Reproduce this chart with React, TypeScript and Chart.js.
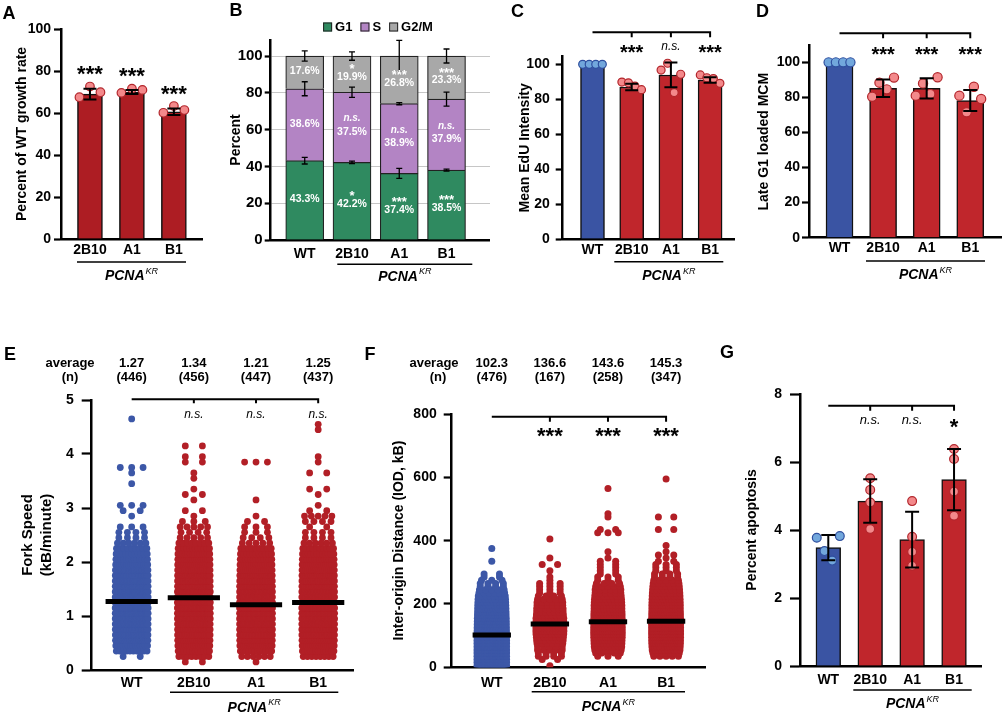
import React, { useEffect, useRef } from "react";
import { Chart, registerables } from "chart.js";

Chart.register(...registerables);

const FONT = "'Liberation Sans', Arial, Helvetica, sans-serif";

/* ====================== DATA ====================== */
// A – growth rate
const growthGroups = ["2B10", "A1", "B1"];
const growthMean = [69.0, 70.0, 60.6];
const growthSD = [2.6, 1.0, 1.6];
const growthPoints = [[67.5, 72.6, 69.9], [69.6, 71.6, 71.0], [60.1, 63.3, 61.4]];
const growthSig = ["***", "***", "***"];
const growthTicks = [0, 20, 40, 60, 80, 100];

// shared groups
const groups4 = ["WT", "2B10", "A1", "B1"];
const pctTicks = [0, 20, 40, 60, 80, 100];

// B – cell-cycle phases
const phaseNames = ["G1", "S", "G2/M"];
const g1Pct = [43.1, 42.2, 36.2, 38.0];
const sPct = [39.1, 38.1, 37.9, 38.6];
const g2mPct = [17.8, 19.7, 25.9, 23.4];
const g1Err = [1.8, 0.7, 2.7, 0.5];
const sErr = [3.8, 2.8, 0.6, 3.8];
const g2mErr = [2.8, 2.3, 8.5, 3.8];
const g1Label = ["43.3%", "42.2%", "37.4%", "38.5%"];
const sLabel = ["38.6%", "37.5%", "38.9%", "37.9%"];
const g2mLabel = ["17.6%", "19.9%", "26.8%", "23.3%"];
const g1Sig = ["", "*", "***", "***"];
const sSig = ["", "n.s.", "n.s.", "n.s."];
const g2mSig = ["", "*", "***", "***"];

// C – EdU
const eduMean = [100, 87.0, 93.9, 91.0];
const eduSD = [0, 1.9, 7.1, 1.6];
const eduPoints = [[100, 100, 100, 100], [89.8, 89.4, 87.5, 85.5], [96.7, 100.6, 83.8, 94.3], [93.9, 92.3, 91.8, 89.1]];
const eduSig = ["", "***", "n.s.", "***"];

// D – MCM
const mcmMean = [100, 85.2, 85.2, 78.2];
const mcmSD = [0, 5.0, 5.8, 6.0];
const mcmPoints = [[100, 100, 100, 100], [80.4, 88.4, 84.6, 91.3], [81.0, 88.0, 81.9, 91.5], [81.0, 71.5, 86.1, 79.1]];
const mcmSig = ["", "***", "***", "***"];

// G – apoptosis
const apopMean = [3.48, 4.85, 3.72, 5.48];
const apopSD = [0.37, 0.64, 0.82, 0.9];
const apopPoints = [[3.77, 3.38, 3.10, 3.82], [5.52, 5.18, 4.81, 4.03], [4.85, 3.80, 3.36, 2.95], [6.38, 6.09, 5.13, 4.42]];
const apopSig = ["", "n.s.", "n.s.", "*"];
const apopTicks = [0, 2, 4, 6, 8];

// E – fork speed (counts per 0.1 kB/min bin, read from the dot clouds)
const forkAvgText = ["1.27", "1.34", "1.21", "1.25"];
const forkNText = ["(446)", "(456)", "(447)", "(437)"];
const forkMean = [1.27, 1.34, 1.21, 1.25];
const forkSig = ["", "n.s.", "n.s.", "n.s."];
const forkTicks = [0, 1, 2, 3, 4, 5];
const forkBin = 0.1;
const forkCountsWT = [0, 0, 2, 10, 14, 19, 21, 23, 25, 25, 27, 27, 27, 27, 26, 25, 24, 23, 21, 16, 13, 11, 9, 6, 4, 4, 3, 0, 1, 2, 3, 0, 0, 0, 1, 0, 1, 3, 0, 0, 0, 0, 0, 0, 0, 0, 1];
const forkCounts2B10 = [0, 2, 8, 12, 15, 18, 20, 21, 22, 25, 26, 26, 26, 26, 25, 22, 21, 20, 19, 18, 16, 14, 12, 8, 5, 4, 5, 3, 1, 2, 0, 1, 2, 1, 0, 1, 1, 0, 2, 2, 0, 2];
const forkCountsA1 = [0, 1, 6, 12, 18, 21, 23, 25, 26, 27, 27, 27, 27, 26, 25, 24, 21, 19, 17, 15, 13, 11, 9, 5, 4, 3, 3, 2, 1, 0, 0, 1, 0, 0, 0, 0, 0, 0, 3];
const forkCountsB1 = [0, 0, 8, 13, 16, 19, 21, 23, 24, 25, 25, 25, 24, 24, 23, 21, 20, 19, 18, 16, 14, 12, 10, 6, 4, 4, 2, 4, 5, 2, 1, 0, 1, 2, 0, 0, 2, 0, 1, 1, 0, 0, 0, 0, 1, 1];

// F – inter-origin distance (counts per 10 kB bin)
const iodAvgText = ["102.3", "136.6", "143.6", "145.3"];
const iodNText = ["(476)", "(167)", "(258)", "(347)"];
const iodMean = [102.3, 136.6, 143.6, 145.3];
const iodSig = ["", "***", "***", "***"];
const iodTicks = [0, 200, 400, 600, 800];
const iodBin = 10;
const iodCountsWT = [25, 25, 25, 25, 25, 25, 25, 25, 25, 25, 25, 21, 20, 18, 17, 16, 14, 13, 12, 11, 10, 9, 8, 6, 5, 4, 4, 3, 2, 2, 0, 0, 0, 1, 0, 0, 0, 1];
const iodCounts2B10 = [1, 0, 2, 4, 4, 5, 5, 6, 7, 8, 10, 11, 11, 11, 10, 10, 8, 7, 7, 6, 6, 5, 4, 3, 3, 3, 3, 1, 1, 0, 1, 0, 2, 0, 1, 0, 0, 0, 0, 0, 1];
const iodCountsA1 = [0, 0, 0, 3, 5, 7, 9, 10, 11, 13, 14, 14, 14, 13, 13, 12, 12, 11, 10, 10, 9, 8, 7, 6, 6, 5, 4, 3, 3, 2, 2, 2, 2, 2, 1, 0, 1, 0, 0, 0, 0, 0, 3, 2, 0, 0, 0, 1, 1, 0, 0, 0, 0, 0, 0, 0, 1];
const iodCountsB1 = [0, 0, 0, 5, 7, 10, 12, 14, 15, 16, 17, 17, 17, 17, 16, 16, 15, 14, 13, 13, 12, 11, 10, 9, 8, 7, 6, 5, 4, 4, 3, 3, 3, 2, 1, 2, 1, 0, 1, 0, 0, 0, 0, 2, 0, 0, 0, 2, 0, 0, 0, 0, 0, 0, 0, 0, 0, 0, 0, 1];

/* ====================== STYLE ====================== */
const RED_DARK = "#ad1d23";
const RED = "#c0262c";
const BLUE = "#3a54a3";
const PINK = "#f3898b";
const PINK_EDGE = "#b3262c";
const LBLUE = "#72a7dc";
const LBLUE_EDGE = "#2f4f9f";
const SW_BLUE = "#3c57a7";
const SW_RED = "#b21f26";
const PHASE_COLORS = ["#2f8a60", "#b384c4", "#a8a8a8"];
const XH = 40;

type Box = { x: number; y: number; w: number; h: number };
type Area = { l: number; t: number; r: number; b: number };

const BOXES: Box[] = [
  { x: 0, y: 0, w: 228, h: 330 },
  { x: 228, y: 0, w: 262, h: 330 },
  { x: 490, y: 0, w: 250, h: 330 },
  { x: 740, y: 0, w: 267, h: 330 },
  { x: 0, y: 330, w: 360, h: 385 },
  { x: 360, y: 330, w: 360, h: 385 },
  { x: 720, y: 330, w: 287, h: 385 },
];

/* ====================== HELPERS ====================== */
function fnt(weight: string, size: number, style = "") {
  return `${style} ${weight} ${size}px ${FONT}`.trim();
}

function padFor(box: Box, area: Area) {
  return { left: 0, top: area.t - box.y, right: box.x + box.w - area.r, bottom: box.y + box.h - area.b - XH };
}

function txt(ctx: any, s: string, x: number, y: number, font: string, color = "#000", align = "center") {
  ctx.save();
  ctx.font = font;
  ctx.fillStyle = color;
  ctx.textAlign = align;
  ctx.textBaseline = "middle";
  ctx.fillText(s, x, y);
  ctx.restore();
}

function sigMark(ctx: any, s: string, x: number, cy: number, star: number, ns: number, color = "#000", nsBold = false) {
  if (!s) return;
  ctx.save();
  ctx.fillStyle = color;
  ctx.textAlign = "center";
  ctx.textBaseline = "alphabetic";
  if (s.indexOf("*") >= 0) {
    ctx.font = fnt("bold", star);
    ctx.fillText(s, x, cy + 0.575 * star);
  } else {
    ctx.font = fnt(nsBold ? "bold" : "normal", ns, "italic");
    ctx.fillText(s, x, cy + 0.26 * ns);
  }
  ctx.restore();
}

function pcnaLabel(ctx: any, x0: number, x1: number, lineY: number, textY: number) {
  ctx.save();
  ctx.strokeStyle = "#000";
  ctx.lineWidth = 1.6;
  ctx.beginPath();
  ctx.moveTo(x0, lineY);
  ctx.lineTo(x1, lineY);
  ctx.stroke();
  const f1 = fnt("bold", 14, "italic");
  const f2 = fnt("normal", 9, "italic");
  ctx.font = f1;
  const w1 = ctx.measureText("PCNA").width;
  ctx.font = f2;
  const w2 = ctx.measureText("KR").width;
  const start = (x0 + x1) / 2 - (w1 + w2 + 1) / 2;
  const base = textY + 5;
  ctx.fillStyle = "#000";
  ctx.textAlign = "left";
  ctx.textBaseline = "alphabetic";
  ctx.font = f1;
  ctx.fillText("PCNA", start, base);
  ctx.font = f2;
  ctx.fillText("KR", start + w1 + 1, base - 6.5);
  ctx.restore();
}

function bracket(ctx: any, x0: number, drops: number[], y: number, drop: number) {
  ctx.save();
  ctx.strokeStyle = "#000";
  ctx.lineWidth = 2;
  ctx.beginPath();
  ctx.moveTo(x0, y);
  ctx.lineTo(drops[drops.length - 1] + 1, y);
  drops.forEach((x) => {
    ctx.moveTo(x, y);
    ctx.lineTo(x, y + drop);
  });
  ctx.stroke();
  ctx.restore();
}

function errBar(ctx: any, x: number, yT: number, yB: number, cap: number, lw: number) {
  ctx.save();
  ctx.strokeStyle = "#000";
  ctx.lineWidth = lw;
  ctx.beginPath();
  ctx.moveTo(x, yT);
  ctx.lineTo(x, yB);
  ctx.moveTo(x - cap, yT);
  ctx.lineTo(x + cap, yT);
  ctx.moveTo(x - cap, yB);
  ctx.lineTo(x + cap, yB);
  ctx.stroke();
  ctx.restore();
}

const xp = (chart: any, v: number) => chart.scales.x.getPixelForValue(v);
const yp = (chart: any, v: number) => chart.scales.y.getPixelForValue(v);

function yAxis(o: any) {
  return {
    type: "linear",
    position: "left",
    min: o.min,
    max: o.max,
    stacked: !!o.stacked,
    afterBuildTicks: (s: any) => {
      s.ticks = o.ticks.map((v: number) => ({ value: v }));
    },
    afterFit: (s: any) => {
      s.width = o.width;
      s.paddingTop = 0;
      s.paddingBottom = 0;
    },
    ticks: { font: { family: FONT, size: o.tickSize, weight: "bold" }, color: "#000", padding: o.tickPad },
    grid: {
      display: true,
      drawOnChartArea: !!o.gridColor,
      color: o.gridColor || "#000",
      lineWidth: 1,
      drawTicks: true,
      tickLength: o.tickLen,
      tickColor: "#000",
      tickWidth: 2.2,
    },
    border: { display: true, color: "#000", width: 2.5 },
    title: {
      display: true,
      text: o.title,
      color: "#000",
      font: { family: FONT, size: o.titleSize || 14, weight: "bold", lineHeight: o.titleLH || 1.2 },
      padding: { top: o.titlePad, bottom: 0 },
    },
  };
}

function xAxis(o: any) {
  return {
    type: "linear",
    position: "bottom",
    min: o.min,
    max: o.max,
    offset: false,
    stacked: !!o.stacked,
    afterBuildTicks: (s: any) => {
      s.ticks = o.groups.map((_: string, i: number) => ({ value: i }));
    },
    afterFit: (s: any) => {
      s.height = XH;
      s.paddingLeft = 0;
      s.paddingRight = 0;
    },
    ticks: {
      callback: (v: number) => o.groups[Math.round(v)] ?? "",
      font: { family: FONT, size: o.size || 14, weight: "bold" },
      color: "#000",
      padding: o.pad,
      autoSkip: false,
      maxRotation: 0,
      minRotation: 0,
    },
    grid: { display: false, drawTicks: false, offset: false },
    border: { display: true, color: "#000", width: 2.5 },
  };
}

function baseOptions(box: Box, area: Area, scales: any) {
  return {
    responsive: false,
    animation: false,
    devicePixelRatio: 1,
    events: [],
    layout: { padding: padFor(box, area) },
    plugins: { legend: { display: false }, tooltip: { enabled: false } },
    scales,
  };
}

function titlePad(box: Box, centerX: number, size = 14, lh = 1.2) {
  return centerX - box.x - (size * lh) / 2;
}

function barPanel(s: any) {
  const pts: any[] = [];
  const fills: string[] = [];
  const strokes: string[] = [];
  s.points.forEach((vals: number[], i: number) => {
    const sp = Array.isArray(s.spread) ? s.spread[i] : s.spread;
    vals.forEach((v: number, j: number) => {
      const off = vals.length > 1 ? -sp / 2 + (sp * j) / (vals.length - 1) : 0;
      pts.push({ x: i + off, y: v });
      fills.push(s.dotFill[i]);
      strokes.push(s.dotStroke[i]);
    });
  });
  const box: Box = s.box;
  const plugin = {
    id: "extras",
    afterDatasetsDraw(chart: any) {
      const ctx = chart.ctx;
      s.mean.forEach((m: number, i: number) => {
        if (!s.sd[i]) return;
        errBar(ctx, xp(chart, i), yp(chart, m + s.sd[i]), yp(chart, m - s.sd[i]), s.cap, 2);
      });
    },
    afterDraw(chart: any) {
      s.extras(chart, chart.ctx, (v: number) => v - box.x, (v: number) => v - box.y);
    },
  };
  return {
    type: "bar",
    data: {
      datasets: [
        {
          type: "bar",
          data: s.mean.map((m: number, i: number) => ({ x: i, y: m })),
          backgroundColor: s.barColors,
          borderColor: "#111",
          borderWidth: 1.5,
          barThickness: s.barW,
          order: 2,
        },
        {
          type: "scatter",
          data: pts,
          pointBackgroundColor: fills,
          pointBorderColor: strokes,
          pointBorderWidth: 1.2,
          pointRadius: s.dotR,
          order: 1,
        },
      ],
    },
    options: baseOptions(box, s.area, {
      x: xAxis({ groups: s.groups, min: s.xmin, max: s.xmax, pad: s.xPad }),
      y: yAxis({ ...s.y, width: s.area.l - box.x }),
    }),
    plugins: [plugin],
  };
}

function expandBins(counts: number[], bin: number, gi: number, spread: number) {
  const out: any[] = [];
  counts.forEach((c, k) => {
    for (let j = 0; j < c; j++) {
      out.push({ x: gi - spread / 2 + (spread * (j + 0.5)) / c, y: (k + 0.5) * bin });
    }
  });
  return out;
}

function swarmPanel(s: any) {
  const box: Box = s.box;
  const datasets: any[] = [];
  s.means.forEach((m: number, i: number) => {
    datasets.push({
      type: "line",
      data: [{ x: i - s.meanHalf, y: m }, { x: i + s.meanHalf, y: m }],
      borderColor: "#000",
      borderWidth: 5,
      pointRadius: 0,
      order: 0,
    });
  });
  s.counts.forEach((c: number[], i: number) => {
    datasets.push({
      type: "scatter",
      data: expandBins(c, s.bin, i, s.spread),
      pointBackgroundColor: s.colors[i],
      pointBorderWidth: 0,
      pointRadius: s.r,
      order: 1,
    });
  });
  const plugin = {
    id: "extras",
    afterDraw(chart: any) {
      s.extras(chart, chart.ctx, (v: number) => v - box.x, (v: number) => v - box.y);
    },
  };
  return {
    type: "scatter",
    data: { datasets },
    options: baseOptions(box, s.area, {
      x: xAxis({ groups: groups4, min: s.xmin, max: s.xmax, pad: s.xPad }),
      y: yAxis({ ...s.y, width: s.area.l - box.x }),
    }),
    plugins: [plugin],
  };
}

/* ====================== PANELS ====================== */
function panelA() {
  const box = BOXES[0];
  return barPanel({
    box,
    area: { l: 61, t: 29, r: 202, b: 239 },
    groups: growthGroups,
    xmin: -0.69,
    xmax: 2.67,
    mean: growthMean,
    sd: growthSD,
    points: growthPoints,
    barColors: growthGroups.map(() => RED_DARK),
    barW: 25,
    dotFill: growthGroups.map(() => PINK),
    dotStroke: growthGroups.map(() => PINK_EDGE),
    dotR: 4.3,
    spread: 0.5,
    cap: 6.5,
    xPad: 3,
    y: { min: 0, max: 100, ticks: growthTicks, tickSize: 14, tickLen: 7, tickPad: 3, title: "Percent of WT growth rate", titlePad: titlePad(box, 22.5) },
    extras: (chart: any, ctx: any, L: any, T: any) => {
      txt(ctx, "A", L(9), T(14), fnt("bold", 18));
      growthSig.forEach((s, i) => sigMark(ctx, s, xp(chart, i), yp(chart, growthMean[i] + growthSD[i]) - 20, 22, 12));
      pcnaLabel(ctx, L(77), L(186), T(262), T(275));
    },
  });
}

function panelB() {
  const box = BOXES[1];
  const area = { l: 270.7, t: 40, r: 498, b: 240 };
  const vals = [g1Pct, sPct, g2mPct];
  const errs = [g1Err, sErr, g2mErr];
  const labels = [g1Label, sLabel, g2mLabel];
  const sigs = [g1Sig, sSig, g2mSig];
  const L = (v: number) => v - box.x;
  const T = (v: number) => v - box.y;
  const plugin = {
    id: "extras",
    afterDatasetsDraw(chart: any) {
      const ctx = chart.ctx;
      groups4.forEach((_, i) => {
        let cum = 0;
        vals.forEach((arr, k) => {
          cum += arr[i];
          const e = errs[k][i];
          errBar(ctx, xp(chart, i), yp(chart, cum + e), yp(chart, cum - e), 3, 1.3);
        });
      });
    },
    afterDraw(chart: any) {
      const ctx = chart.ctx;
      txt(ctx, "B", L(236), T(11), fnt("bold", 18));
      // legend
      ctx.save();
      ctx.font = fnt("bold", 13);
      const widths = phaseNames.map((n) => ctx.measureText(n).width);
      const total = widths.reduce((a, w) => a + 12 + w, 0) + 8 * (phaseNames.length - 1);
      let x = L(378) - total / 2;
      phaseNames.forEach((n, k) => {
        ctx.fillStyle = PHASE_COLORS[k];
        ctx.fillRect(x, T(22.5), 9, 9);
        ctx.strokeStyle = "#222";
        ctx.lineWidth = 1;
        ctx.strokeRect(x + 0.5, T(22.5) + 0.5, 8, 8);
        ctx.fillStyle = "#000";
        ctx.textAlign = "left";
        ctx.textBaseline = "middle";
        ctx.fillText(n, x + 12, T(27.5));
        x += 12 + widths[k] + 8;
      });
      ctx.restore();
      // segment labels
      groups4.forEach((_, i) => {
        let base = 0;
        vals.forEach((arr, k) => {
          const mid = yp(chart, base + arr[i] / 2);
          base += arr[i];
          const sg = sigs[k][i];
          const isNs = sg.indexOf("n.s.") >= 0;
          const vy = sg ? mid + (isNs ? 5 : 3) : mid - 1;
          if (sg) sigMark(ctx, sg, xp(chart, i), mid - 8.5, 13, 10, "#fff", true);
          txt(ctx, labels[k][i], xp(chart, i), vy, fnt("bold", 10.5), "#fff");
        });
      });
      pcnaLabel(ctx, L(337.3), L(472.3), T(264.3), T(275.7));
    },
  };
  return {
    type: "bar",
    data: {
      datasets: phaseNames.map((n, k) => ({
        type: "bar",
        label: n,
        data: vals[k].map((v, i) => ({ x: i, y: v })),
        backgroundColor: PHASE_COLORS[k],
        borderColor: "#222",
        borderWidth: 1.2,
        barThickness: 38,
      })),
    },
    options: baseOptions(box, area, {
      x: xAxis({ groups: groups4, min: -0.72, max: 3.92, pad: 5.6, stacked: true }),
      y: yAxis({
        min: 0,
        max: 108.7,
        ticks: pctTicks,
        stacked: true,
        tickSize: 15,
        tickLen: 6,
        tickPad: 2,
        gridColor: "#c6c6c6",
        title: "Percent",
        titlePad: Math.max(0, titlePad(box, 236.5)),
        width: area.l - box.x,
      }),
    }),
    plugins: [plugin],
  };
}

function panelC() {
  const box = BOXES[2];
  return barPanel({
    box,
    area: { l: 562.7, t: 56.7, r: 735, b: 239 },
    groups: groups4,
    xmin: -0.76,
    xmax: 3.63,
    mean: eduMean,
    sd: eduSD,
    points: eduPoints,
    barColors: [BLUE, RED, RED, RED],
    barW: 24,
    dotFill: [LBLUE, PINK, PINK, PINK],
    dotStroke: [LBLUE_EDGE, PINK_EDGE, PINK_EDGE, PINK_EDGE],
    dotR: 4,
    spread: 0.5,
    cap: 6.5,
    xPad: 3,
    y: { min: 0, max: 104.35, ticks: pctTicks, tickSize: 14, tickLen: 7, tickPad: 6, title: "Mean EdU Intensity", titlePad: titlePad(box, 525) },
    extras: (chart: any, ctx: any, L: any, T: any) => {
      txt(ctx, "C", L(517.5), T(12), fnt("bold", 18));
      bracket(ctx, xp(chart, 0), [xp(chart, 1), xp(chart, 2), xp(chart, 3)], T(32.3), 5);
      eduSig.forEach((s, i) => sigMark(ctx, s, xp(chart, i), T(47), 20, 12));
      pcnaLabel(ctx, L(614.3), L(723.3), T(261.7), T(275));
    },
  });
}

function panelD() {
  const box = BOXES[3];
  return barPanel({
    box,
    area: { l: 809, t: 45.7, r: 1003, b: 237.7 },
    groups: groups4,
    xmin: -0.7,
    xmax: 3.71,
    mean: mcmMean,
    sd: mcmSD,
    points: mcmPoints,
    barColors: [BLUE, RED, RED, RED],
    barW: 27,
    dotFill: [LBLUE, PINK, PINK, PINK],
    dotStroke: [LBLUE_EDGE, PINK_EDGE, PINK_EDGE, PINK_EDGE],
    dotR: 4.6,
    spread: 0.5,
    cap: 7,
    xPad: 2.2,
    y: { min: 0, max: 109.5, ticks: pctTicks, tickSize: 14, tickLen: 7, tickPad: 2, title: "Late G1 loaded MCM", titlePad: titlePad(box, 764) },
    extras: (chart: any, ctx: any, L: any, T: any) => {
      txt(ctx, "D", L(762.5), T(12.5), fnt("bold", 18));
      bracket(ctx, xp(chart, 0), [xp(chart, 1), xp(chart, 2), xp(chart, 3)], T(33.3), 5);
      mcmSig.forEach((s, i) => sigMark(ctx, s, xp(chart, i), T(49.3), 20, 12));
      pcnaLabel(ctx, L(866), L(985), T(261), T(274));
    },
  });
}

function panelE() {
  const box = BOXES[4];
  return swarmPanel({
    box,
    area: { l: 91.7, t: 400, r: 353, b: 670 },
    xmin: -0.643,
    xmax: 3.56,
    xPad: 4.9,
    means: forkMean,
    meanHalf: 0.42,
    counts: [forkCountsWT, forkCounts2B10, forkCountsA1, forkCountsB1],
    bin: forkBin,
    spread: 0.55,
    r: 3.4,
    colors: [SW_BLUE, SW_RED, SW_RED, SW_RED],
    y: {
      min: 0,
      max: 5,
      ticks: forkTicks,
      tickSize: 14,
      tickLen: 10,
      tickPad: 8,
      title: ["Fork Speed", "(kB/minute)"],
      titleSize: 15,
      titleLH: 1.25,
      titlePad: titlePad(box, 27.7, 15, 1.25),
    },
    extras: (chart: any, ctx: any, L: any, T: any) => {
      txt(ctx, "E", L(10), T(355), fnt("bold", 18));
      txt(ctx, "average", L(70), T(363), fnt("bold", 13));
      txt(ctx, "(n)", L(70), T(377), fnt("bold", 13));
      groups4.forEach((_, i) => {
        txt(ctx, forkAvgText[i], xp(chart, i), T(363), fnt("bold", 13));
        txt(ctx, forkNText[i], xp(chart, i), T(377), fnt("bold", 13));
      });
      bracket(ctx, xp(chart, 0), [xp(chart, 1), xp(chart, 2), xp(chart, 3)], T(399.3), 4);
      forkSig.forEach((s, i) => sigMark(ctx, s, xp(chart, i), T(415), 20, 12));
      pcnaLabel(ctx, L(170), L(338.3), T(692.3), T(706.7));
    },
  });
}

function panelF() {
  const box = BOXES[5];
  return swarmPanel({
    box,
    area: { l: 451.7, t: 414, r: 705, b: 667.3 },
    xmin: -0.69,
    xmax: 3.67,
    xPad: 7.6,
    means: iodMean,
    meanHalf: 0.33,
    counts: [iodCountsWT, iodCounts2B10, iodCountsA1, iodCountsB1],
    bin: iodBin,
    spread: 0.53,
    r: 3.5,
    colors: [SW_BLUE, SW_RED, SW_RED, SW_RED],
    y: {
      min: 0,
      max: 800,
      ticks: iodTicks,
      tickSize: 14,
      tickLen: 8,
      tickPad: 7,
      title: "Inter-origin Distance (IOD, kB)",
      titlePad: titlePad(box, 399),
    },
    extras: (chart: any, ctx: any, L: any, T: any) => {
      txt(ctx, "F", L(370), T(355), fnt("bold", 18));
      txt(ctx, "average", L(434), T(363), fnt("bold", 13));
      txt(ctx, "(n)", L(438), T(377), fnt("bold", 13));
      groups4.forEach((_, i) => {
        txt(ctx, iodAvgText[i], xp(chart, i), T(363), fnt("bold", 13));
        txt(ctx, iodNText[i], xp(chart, i), T(377), fnt("bold", 13));
      });
      bracket(ctx, xp(chart, 0), [xp(chart, 1), xp(chart, 2), xp(chart, 3)], T(416.7), 5);
      iodSig.forEach((s, i) => sigMark(ctx, s, xp(chart, i), T(430.7), 22, 12));
      pcnaLabel(ctx, L(531.7), L(685), T(691.7), T(706));
    },
  });
}

function panelG() {
  const box = BOXES[6];
  return barPanel({
    box,
    area: { l: 800, t: 394, r: 981.7, b: 666 },
    groups: groups4,
    xmin: -0.675,
    xmax: 3.66,
    mean: apopMean,
    sd: apopSD,
    points: apopPoints,
    barColors: [BLUE, RED, RED, RED],
    barW: 24.7,
    dotFill: [LBLUE, PINK, PINK, PINK],
    dotStroke: [LBLUE_EDGE, PINK_EDGE, PINK_EDGE, PINK_EDGE],
    dotR: 4.4,
    spread: [0.55, 0, 0, 0],
    cap: 7,
    xPad: 5.6,
    y: { min: 0, max: 8, ticks: apopTicks, tickSize: 14, tickLen: 10, tickPad: 8, title: "Percent apoptosis", titlePad: titlePad(box, 751.7) },
    extras: (chart: any, ctx: any, L: any, T: any) => {
      txt(ctx, "G", L(727), T(353), fnt("bold", 18));
      bracket(ctx, xp(chart, 0), [xp(chart, 1), xp(chart, 2), xp(chart, 3)], T(405.7), 5);
      apopSig.forEach((s, i) => sigMark(ctx, s, xp(chart, i), T(421), 22, 13));
      pcnaLabel(ctx, L(853.3), L(971.7), T(690), T(703.3));
    },
  });
}

/* ====================== APP ====================== */
export default function App() {
  const refs = useRef<(HTMLCanvasElement | null)[]>([]);
  useEffect(() => {
    const cfgs = [panelA(), panelB(), panelC(), panelD(), panelE(), panelF(), panelG()];
    const charts = cfgs.map((c, k) => new Chart(refs.current[k] as HTMLCanvasElement, c as any));
    return () => charts.forEach((c) => c.destroy());
  }, []);
  return (
    <div style={{ position: "absolute", left: 0, top: 0, width: 1007, height: 715, background: "#fff", overflow: "hidden" }}>
      {BOXES.map((b, k) => (
        <canvas
          key={k}
          ref={(el) => {
            refs.current[k] = el;
          }}
          width={b.w}
          height={b.h}
          style={{ position: "absolute", left: b.x, top: b.y, width: b.w, height: b.h }}
        />
      ))}
    </div>
  );
}
